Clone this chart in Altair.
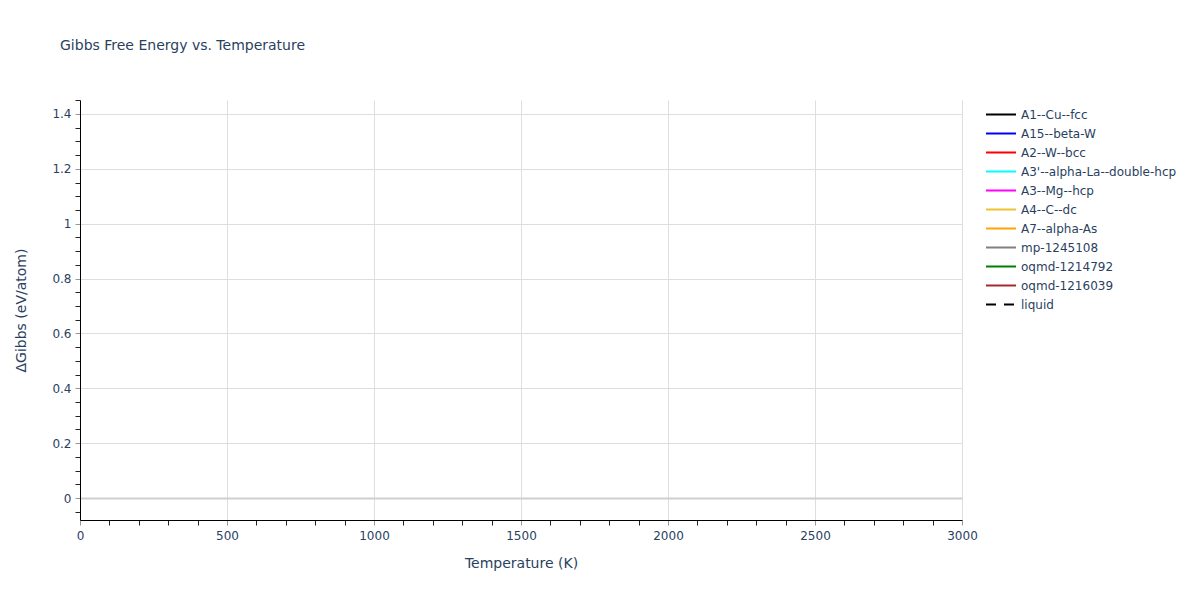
import altair as alt
import pandas as pd


# phases shown in the legend (no curve of any phase falls inside the plotted window)
phases = [
    "A1--Cu--fcc", "A15--beta-W", "A2--W--bcc", "A3'--alpha-La--double-hcp",
    "A3--Mg--hcp", "A4--C--dc", "A7--alpha-As", "mp-1245108",
    "oqmd-1214792", "oqmd-1216039", "liquid",
]
phase_colors = [
    "black", "blue", "red", "cyan", "magenta", "#f0c232", "orange",
    "gray", "green", "brown", "black",
]
phase_dash = [[1, 0]] * 10 + [[10, 8]]

temperature = [0, 3000]
gibbs = [None, None]

x_major = [0, 500, 1000, 1500, 2000, 2500, 3000]
x_ticks = [t * 100 for t in range(31)]
y_major = [0, 0.2, 0.4, 0.6, 0.8, 1, 1.2, 1.4]
y_ticks = [round(-0.05 + 0.05 * i, 2) for i in range(31)]

rows = []
for p in phases:
    for t, g in zip(temperature, gibbs):
        rows.append({"phase": p, "T": t, "dG": g})
df = pd.DataFrame(rows)

font = "DejaVu Sans"
text_color = "#2a3f5f"
grid_color = "#dedede"

x_is_major = "datum.value % 500 === 0"
y_is_major = "abs(round(datum.value * 100)) % 20 === 0"
y_is_zero = "abs(datum.value) < 0.001"

chart = alt.Chart(df).mark_line(strokeWidth=2).encode(
    alt.X("T:Q")
    .scale(domain=[0, 3000], nice=False, zero=False)
    .axis(
        title="Temperature (K)",
        values=x_ticks,
        labelExpr=f"{x_is_major} ? datum.value : ''",
        labelFlush=False,
        labelOverlap=False,
        labelPadding=5,
        tickSize=5,
        tickColor={"condition": {"test": x_is_major, "value": "#999999"}, "value": "#222222"},
        domainColor="black",
        grid=True,
        gridColor=grid_color,
        gridOpacity={"condition": {"test": f"{x_is_major} && datum.value > 0", "value": 1}, "value": 0},
        titleY=36,
        titleBaseline="top",
    ),
    alt.Y("dG:Q")
    .scale(domain=[-0.08, 1.451], nice=False, zero=False)
    .axis(
        title="ΔGibbs (eV/atom)",
        values=y_ticks,
        labelExpr=f"{y_is_major} ? '' + round(datum.value * 10) / 10 : ''",
        labelOverlap=False,
        labelPadding=4,
        tickSize=5,
        tickColor={"condition": {"test": y_is_major, "value": "#999999"}, "value": "#222222"},
        domainColor="black",
        grid=True,
        gridColor={"condition": {"test": y_is_zero, "value": "#cfcfcf"}, "value": grid_color},
        gridOpacity={"condition": {"test": y_is_major, "value": 1}, "value": 0},
        gridWidth={"condition": {"test": y_is_zero, "value": 2}, "value": 1},
        titleX=-52,
        titleY=210,
    ),
    color=alt.Color("phase:N")
    .scale(domain=phases, range=phase_colors)
    .legend(title=None),
    strokeDash=alt.StrokeDash("phase:N")
    .scale(domain=phases, range=phase_dash)
    .legend(title=None),
).properties(
    width=882,
    height=420,
    autosize=alt.AutoSizeParams(type="none"),
    padding={"left": 72, "top": 92, "right": 230, "bottom": 72},
    title=alt.TitleParams(
        "Gibbs Free Energy vs. Temperature",
        anchor="start",
        frame="group",
        dx=-20,
        offset=41,
        fontSize=14,
        fontWeight="normal",
        font=font,
        color=text_color,
    ),
).configure_view(
    stroke=None
).configure_axis(
    labelFont=font,
    labelFontSize=12,
    labelColor=text_color,
    titleFont=font,
    titleFontSize=14,
    titleFontWeight="normal",
    titleColor=text_color,
).configure_legend(
    orient="none",
    legendX=905,
    legendY=5,
    symbolType="stroke",
    symbolSize=900,
    symbolStrokeWidth=2,
    clipHeight=19,
    rowPadding=0,
    labelOffset=4,
    labelFont=font,
    labelFontSize=12,
    labelColor=text_color,
    labelLimit=300,
    symbolLimit=20,
)

chart.save("out.html", embed_options={"renderer": "svg", "actions": False})
